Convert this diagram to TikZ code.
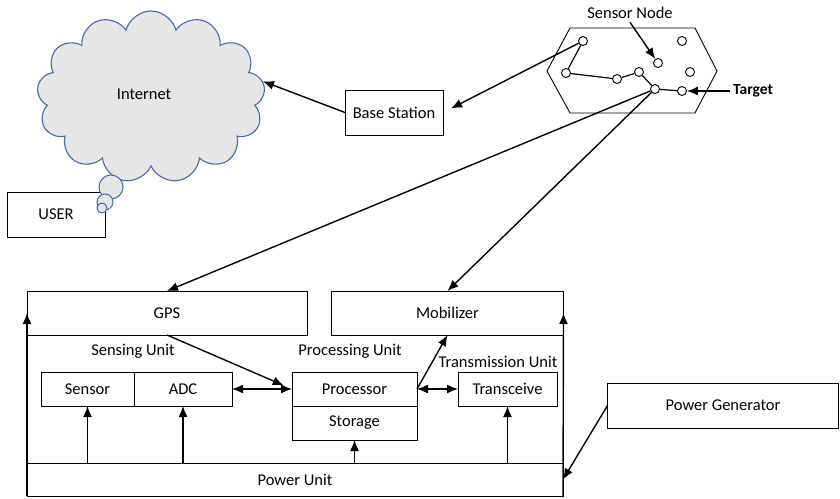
\documentclass[tikz,border=0pt]{standalone}
\usepackage{fontspec}
\setmainfont{Carlito}
\usetikzlibrary{positioning,shapes.symbols,arrows.meta}
\definecolor{cloudfill}{RGB}{230,230,230}
\definecolor{cloudline}{RGB}{68,108,168}

\begin{document}
\begin{tikzpicture}[
  x=1pt,y=-1pt,
  font=\fontsize{16.5}{19}\selectfont,
  >={Latex[length=11pt,width=9pt]},
  box/.style={draw,line width=1pt,inner sep=0pt,outer sep=0pt,minimum height=34pt},
  mote/.style={draw,circle,line width=0.9pt,fill=white,inner sep=0pt,minimum size=9pt},
  bubble/.style={draw=cloudline,fill=cloudfill,circle,line width=1pt,inner sep=0pt},
  link/.style={line width=1.4pt,->}
  ]
  \useasboundingbox (0,0) rectangle (840,498);

  % internet side
  \node[cloud,cloud puffs=13,aspect=1.35,draw=cloudline,fill=cloudfill,line width=1.1pt,
        minimum width=228pt,minimum height=172pt] (cloud) at (151,97) {\raisebox{6pt}{Internet}\hspace*{14pt}};
  \node[box,minimum width=98pt,minimum height=45pt] (user) at (56,214.5) {USER};
  \node[bubble,minimum size=24pt] (b1) at (111,187) {};
  \node[bubble,minimum size=16pt] (b2) at (105,202) {};
  \node[bubble,minimum size=10pt] (b3) at (102,208) {};
  \node[box,minimum width=98pt,minimum height=45pt] (base) at (394,112.5) {Base Station};

  % sensor field
  \draw[line width=0.9pt] (547,71) -- (570,28) -- (695,28) -- (717,71)
    -- (695,113) -- (570,113) -- cycle;
  \node[mote] (s1) at (583,41) {};
  \node[mote] (s2) at (682,41) {};
  \node[mote] (s3) at (658,63) {};
  \node[mote] (s4) at (690,72) {};
  \node[mote] (s5) at (566,73) {};
  \node[mote] (s6) at (617,79) {};
  \node[mote] (s7) at (639,72) {};
  \node[mote] (s8) at (655,89) {};
  \node[mote] (s9) at (682,91) {};
  \draw[line width=1.2pt] (s1) -- (s5) -- (s6) -- (s7) -- (s8) -- (s9);
  \node (snlabel) at (630,13) {Sensor Node};
  \node[font=\fontsize{15.5}{18}\selectfont\bfseries] (target) at (753,91) {Target};

  % node architecture
  \node[box,minimum width=280pt,minimum height=44pt] (gps) at (167,313) {GPS};
  \node[box,minimum width=232pt,minimum height=44pt] (mob) at (447.5,313) {Mobilizer};
  \node (sensing) at (133,351) {Sensing Unit};
  \node (processing) at (350,351) {Processing Unit};
  \node (transmission) at (498,362) {Transmission Unit};
  \node[box,minimum width=93pt] (sensor) at (87.5,389) {Sensor};
  \node[box,minimum width=98pt,right=0pt of sensor] (adc) {ADC};
  \node[box,minimum width=125pt] (proc) at (354.5,389) {Processor};
  \node[box,minimum width=125pt,below=0pt of proc] (stor) {Storage};
  \node[box,minimum width=99pt] (trans) at (507.5,389) {Transceive};
  \node[box,minimum width=536pt,minimum height=33pt] (pu) at (295,479.5) {Power Unit};
  \node[box,minimum width=231pt,minimum height=45pt] (gen) at (723,405.5) {Power Generator};

  % connectors
  \draw[link] (base.west) -- (cloud.8);
  \draw[link,shorten >=9pt] (s1) -- (base.east);
  \draw[link] (snlabel.south) -- (s3);
  \draw[link] (target.west) -- (s9);
  \draw[link] (s8) -- (gps.north);
  \draw[link] (s8) -- (mob.north);
  \draw[link,shorten >=9pt] (gps.south) -- (proc.west);
  \draw[link,<->] (adc.east) -- (proc.west);
  \draw[link,<->] (proc.east) -- (trans.west);
  \draw[link] (proc.east) -- (mob.south);
  \foreach \u in {sensor,adc,stor,trans}
    \draw[link] (\u.south |- pu.north) -- (\u.south);
  \draw[link] (pu.south west) -- (gps.west);
  \draw[link] (pu.south east) -- (mob.east);
  \draw[link] (gen.west) -- (pu.east);
\end{tikzpicture}
\end{document}
